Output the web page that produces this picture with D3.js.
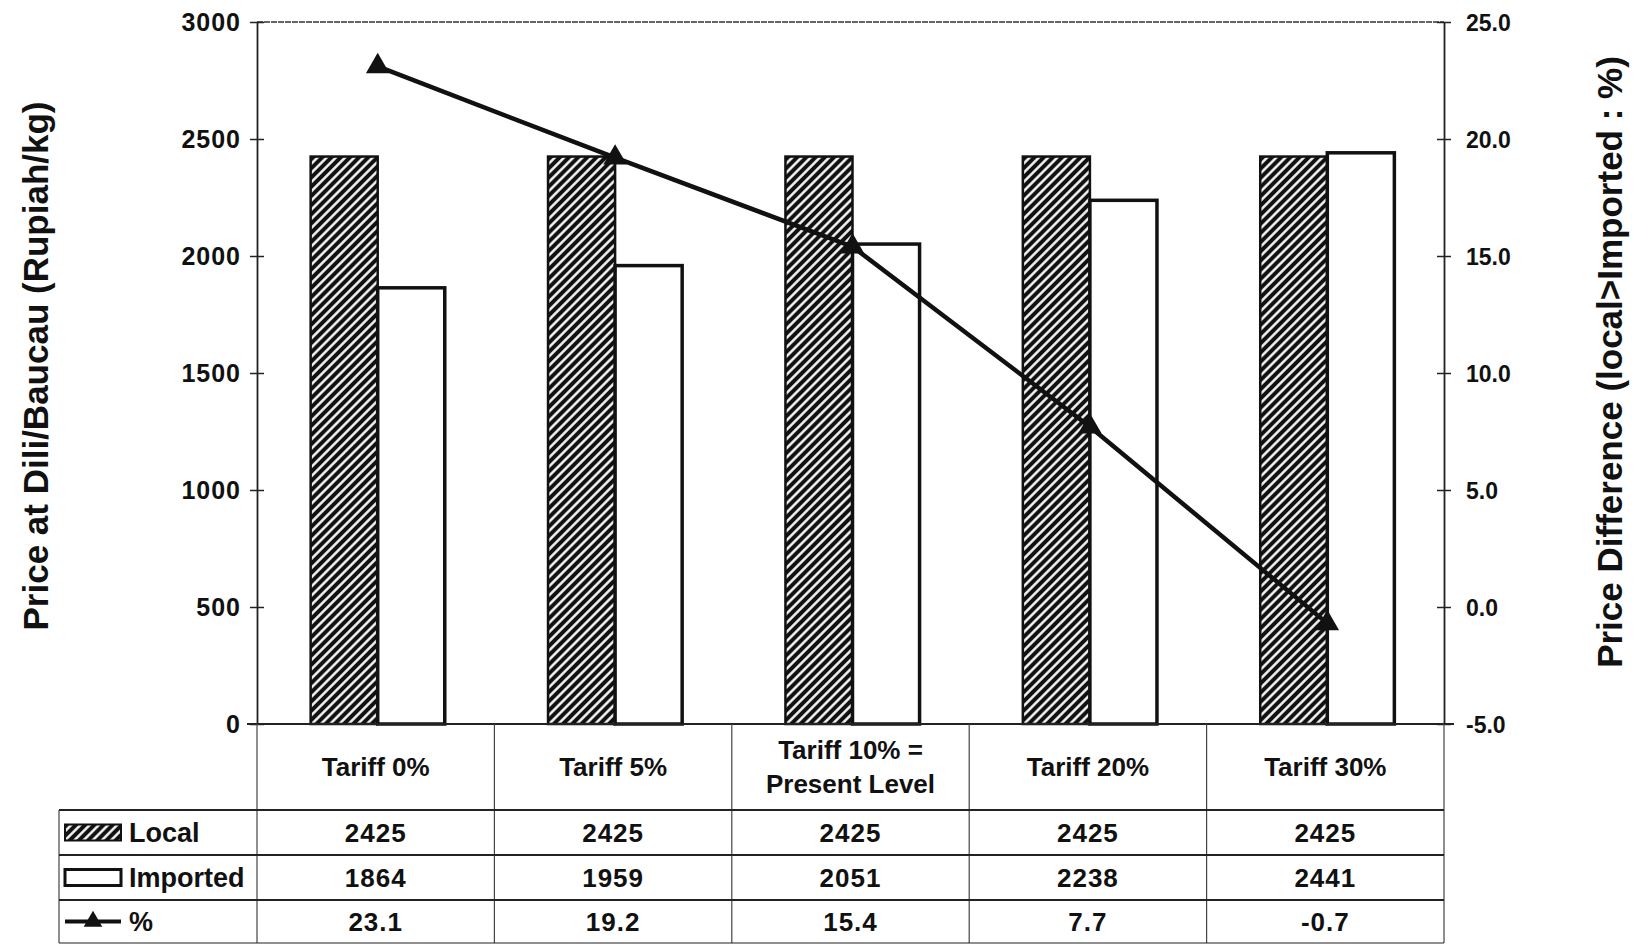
<!DOCTYPE html>
<html>
<head>
<meta charset="utf-8">
<script src="https://cdn.jsdelivr.net/npm/d3@7"></script>
<style>
  html, body { margin: 0; padding: 0; background: #fff; }
  svg text { font-family: "Liberation Sans", Arial, sans-serif; font-weight: bold; fill: #111; }
</style>
</head>
<body>
<svg id="chart" width="1639" height="945"></svg>
<script>
// data
const categories = ['Tariff 0%', 'Tariff 5%', 'Tariff 10% =\nPresent Level', 'Tariff 20%', 'Tariff 30%'];
const localPrice    = [2425, 2425, 2425, 2425, 2425];
const importedPrice = [1864, 1959, 2051, 2238, 2441];
const priceDiff     = [23.1, 19.2, 15.4, 7.7, -0.7];
const leftTicks  = [0, 500, 1000, 1500, 2000, 2500, 3000];
const rightTicks = [-5, 0, 5, 10, 15, 20, 25];
const seriesNames = ['Local', 'Imported'];

const svg = d3.select('#chart');
const margin = {left: 257, right: 1444, top: 22, bottom: 724};

const x0 = d3.scaleBand().domain(categories).range([margin.left, margin.right]).padding(0);
const x1 = d3.scaleBand().domain(seriesNames).range([0, x0.bandwidth()]).paddingInner(0).paddingOuter(0.77);
const yL = d3.scaleLinear().domain([0, 3000]).range([margin.bottom, margin.top]);
const yR = d3.scaleLinear().domain([-5, 25]).range([margin.bottom, margin.top]);
const hyphen = f => d => f(d).replace('\u2212', '-');

// hatch pattern
const defs = svg.append('defs');
const pat = defs.append('pattern')
  .attr('id', 'hatch')
  .attr('patternUnits', 'userSpaceOnUse')
  .attr('width', 6.5).attr('height', 6.5)
  .attr('patternTransform', 'rotate(45)');
pat.append('rect').attr('width', 6.5).attr('height', 6.5).attr('fill', '#111');
pat.append('line').attr('x1', 3.25).attr('x2', 3.25).attr('y1', 0).attr('y2', 6.5)
  .attr('stroke', '#fff').attr('stroke-width', 2.4);

// top border
svg.append('line')
  .attr('x1', margin.left).attr('x2', margin.right)
  .attr('y1', margin.top).attr('y2', margin.top)
  .attr('stroke', '#333').attr('stroke-width', 1.5).attr('stroke-dasharray', '6,1');

// bars
const barsG = svg.append('g');
categories.forEach((c, i) => {
  const g = barsG.append('g').attr('transform', `translate(${x0(c) + 2},0)`);
  g.append('rect')
    .attr('x', x1('Local')).attr('width', x1.bandwidth())
    .attr('y', yL(localPrice[i])).attr('height', yL(0) - yL(localPrice[i]))
    .attr('fill', 'url(#hatch)').attr('stroke', '#111').attr('stroke-width', 2.5);
  g.append('rect')
    .attr('x', x1('Imported')).attr('width', x1.bandwidth())
    .attr('y', yL(importedPrice[i])).attr('height', yL(0) - yL(importedPrice[i]))
    .attr('fill', '#fff').attr('stroke', '#111').attr('stroke-width', 3.5);
});

// left axis
const leftAxis = d3.axisLeft(yL).tickValues(leftTicks).tickFormat(d3.format('d'))
  .tickSizeInner(6).tickSizeOuter(0).tickPadding(10);
const gl = svg.append('g').attr('transform', `translate(${margin.left},0)`).call(leftAxis);
gl.select('.domain').attr('stroke', '#222').attr('stroke-width', 1.8);
gl.selectAll('.tick line').attr('x1', -7).attr('x2', 7).attr('stroke', '#222').attr('stroke-width', 1.5);
gl.selectAll('.tick text').style('font-size', '25px').style('letter-spacing', '1px').attr('dy', '0.35em');

// right axis
const rightAxis = d3.axisRight(yR).tickValues(rightTicks).tickFormat(hyphen(d3.format('.1f')))
  .tickSizeInner(6).tickSizeOuter(0).tickPadding(16);
const gr = svg.append('g').attr('transform', `translate(${margin.right},0)`).call(rightAxis);
gr.select('.domain').attr('stroke', '#222').attr('stroke-width', 1.8);
gr.selectAll('.tick line').attr('x1', -7).attr('x2', 7).attr('stroke', '#222').attr('stroke-width', 1.5);
gr.selectAll('.tick text').style('font-size', '23px').attr('dy', '0.35em');

// baseline
svg.append('line')
  .attr('x1', margin.left - 10).attr('x2', margin.right + 10)
  .attr('y1', yL(0)).attr('y2', yL(0))
  .attr('stroke', '#222').attr('stroke-width', 2);

// line series
const cx = c => x0(c) + x0.bandwidth() / 2;
const line = d3.line().x((d, i) => cx(categories[i]) + 2).y(d => yR(d));
svg.append('path').datum(priceDiff)
  .attr('d', line).attr('fill', 'none').attr('stroke', '#111').attr('stroke-width', 4.5);
const tri = d3.symbol().type(d3.symbolTriangle).size(240);
svg.append('g').selectAll('path').data(priceDiff).join('path')
  .attr('d', tri)
  .attr('transform', (d, i) => `translate(${cx(categories[i]) + 2},${yR(d)})`)
  .attr('fill', '#111');

// axis titles
svg.append('text')
  .attr('transform', 'translate(36,366) rotate(-90)')
  .attr('text-anchor', 'middle').attr('dy', '0.35em').style('font-size', '35px')
  .text('Price at Dili/Baucau (Rupiah/kg)');
svg.append('text')
  .attr('transform', 'translate(1610,362) rotate(-90)')
  .attr('text-anchor', 'middle').attr('dy', '0.35em').style('font-size', '35px')
  .text('Price Difference (local>Imported : %)');

// data table
const tableLeft = 59;
const rowY = [724, 810, 855, 900, 943];
const tbl = svg.append('g');
const edges = categories.map(c => x0(c)).concat([margin.right]);

edges.forEach(xv => {
  tbl.append('line').attr('x1', xv).attr('x2', xv).attr('y1', rowY[0]).attr('y2', rowY[4])
    .attr('stroke', '#444').attr('stroke-width', 1.2);
});
tbl.append('line').attr('x1', tableLeft).attr('x2', tableLeft).attr('y1', rowY[1]).attr('y2', rowY[4])
  .attr('stroke', '#444').attr('stroke-width', 1.2);
[1, 2, 3, 4].forEach(r => {
  tbl.append('line').attr('x1', tableLeft).attr('x2', margin.right).attr('y1', rowY[r]).attr('y2', rowY[r])
    .attr('stroke', '#222').attr('stroke-width', r === 4 ? 1.2 : 1.8);
});

// header labels
categories.forEach(c => {
  const parts = c.split('\n');
  const t = tbl.append('text').attr('text-anchor', 'middle').style('font-size', '26px');
  const mid = (rowY[0] + rowY[1]) / 2;
  parts.forEach((p, k) => {
    t.append('tspan').attr('x', cx(c))
      .attr('y', mid + 9 + (k - (parts.length - 1) / 2) * 34)
      .text(p);
  });
});

// value rows
const rows = [localPrice.map(String), importedPrice.map(String), priceDiff.map(d => d.toFixed(1))];
rows.forEach((vals, r) => {
  const mid = (rowY[r + 1] + rowY[r + 2]) / 2;
  vals.forEach((v, i) => {
    tbl.append('text').attr('text-anchor', 'middle').style('font-size', '26px')
      .style('letter-spacing', '1px')
      .attr('x', cx(categories[i])).attr('y', mid + 9).text(v);
  });
});

// legend keys
const keyX = 65, keyW = 56;
const m1 = (rowY[1] + rowY[2]) / 2, m2 = (rowY[2] + rowY[3]) / 2, m3 = (rowY[3] + rowY[4]) / 2;
tbl.append('rect').attr('x', keyX).attr('y', m1 - 8).attr('width', keyW).attr('height', 16)
  .attr('fill', 'url(#hatch)').attr('stroke', '#111').attr('stroke-width', 2);
tbl.append('rect').attr('x', keyX).attr('y', m2 - 8).attr('width', keyW).attr('height', 16)
  .attr('fill', '#fff').attr('stroke', '#111').attr('stroke-width', 3);
tbl.append('line').attr('x1', keyX).attr('x2', keyX + keyW).attr('y1', m3).attr('y2', m3)
  .attr('stroke', '#111').attr('stroke-width', 4);
tbl.append('path').attr('d', d3.symbol().type(d3.symbolTriangle).size(150))
  .attr('transform', `translate(${keyX + keyW / 2},${m3})`).attr('fill', '#111');
tbl.append('text').attr('x', keyX + keyW + 8).attr('y', m1 + 9).style('font-size', '27px').text('Local');
tbl.append('text').attr('x', keyX + keyW + 8).attr('y', m2 + 9).style('font-size', '27px').text('Imported');
tbl.append('text').attr('x', keyX + keyW + 8).attr('y', m3 + 9).style('font-size', '27px').text('%');
</script>
</body>
</html>
